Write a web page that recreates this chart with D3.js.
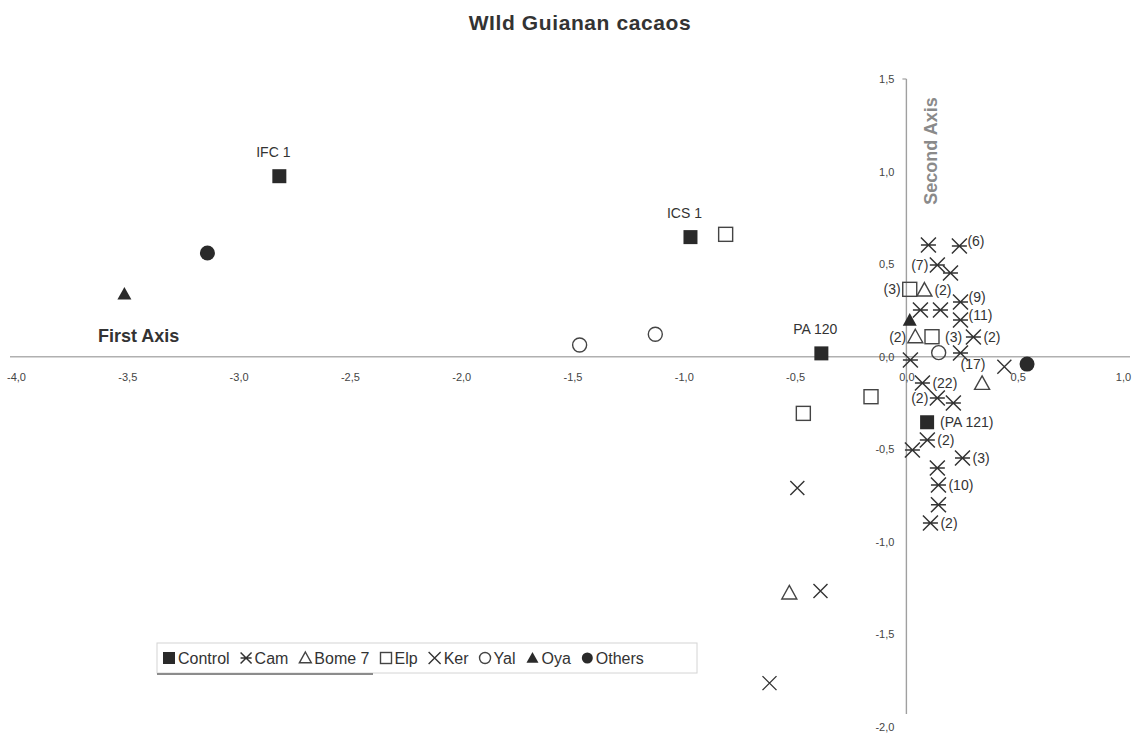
<!DOCTYPE html>
<html><head><meta charset="utf-8">
<script src="https://cdn.jsdelivr.net/npm/d3@7"></script>
<style>
body{margin:0;background:#fff}
svg{display:block}
text{font-family:"Liberation Sans",Arial,Helvetica,sans-serif}
</style>
</head><body>
<svg id="chart" width="1135" height="738"></svg>
<script>
// ---------- DATA ----------
const chartTitle = "WIld Guianan cacaos";
const xAxisTitle = "First Axis";
const yAxisTitle = "Second Axis";
const xTicks = [-4, -3.5, -3, -2.5, -2, -1.5, -1, -0.5, 0, 0.5, 1];
const yTicks = [-2, -1.5, -1, -0.5, 0, 0.5, 1, 1.5];
const legendNames = ["Control", "Cam", "Bome 7", "Elp", "Ker", "Yal", "Oya", "Others"];

// Control (filled squares)
const controlX = [-2.817, -0.970, -0.382, 0.093];
const controlY = [0.975, 0.646, 0.018, -0.354];
const controlLabel = ["IFC 1", "ICS 1", "PA 120", "(PA 121)"];
const controlSide = ["t", "t", "t", "r"];

// Cam (asterisks)
const camX = [0.099, 0.238, 0.139, 0.198, 0.243, 0.063, 0.153, 0.243, 0.301, 0.018, 0.243, 0.072, 0.139, 0.211, 0.094, 0.027, 0.252, 0.139, 0.144, 0.144, 0.108];
const camY = [0.603, 0.598, 0.495, 0.452, 0.296, 0.252, 0.252, 0.198, 0.106, -0.018, 0.020, -0.142, -0.223, -0.250, -0.450, -0.504, -0.547, -0.601, -0.693, -0.800, -0.898];
const camLabel = ["", "(6)", "(7)", "", "(9)", "", "", "(11)", "(2)", "", "(17)", "(22)", "(2)", "", "(2)", "", "(3)", "", "(10)", "", "(2)"];
const camSide = ["", "rt", "l", "", "rt", "", "", "rt", "r", "", "rb", "r", "l", "", "r", "", "r", "", "r", "", "r"];

// Bome 7 (open triangles)
const bomeX = [0.081, 0.040, 0.340, -0.526];
const bomeY = [0.360, 0.108, -0.144, -1.276];
const bomeLabel = ["(2)", "(2)", "", ""];
const bomeSide = ["r", "l", "", ""];

// Elp (open squares)
const elpX = [-0.812, -0.463, -0.159, 0.015, 0.115];
const elpY = [0.661, -0.306, -0.216, 0.364, 0.108];
const elpLabel = ["", "", "", "(3)", "(3)"];
const elpSide = ["", "", "", "l", "r"];

// Ker (crosses)
const kerX = [-0.490, -0.386, -0.615, 0.440];
const kerY = [-0.709, -1.266, -1.763, -0.054];

// Yal (open circles)
const yalX = [-1.468, -1.128, 0.145];
const yalY = [0.063, 0.121, 0.022];

// Oya (filled triangles)
const oyaX = [-3.513, 0.015];
const oyaY = [0.339, 0.198];

// Others (filled circles)
const othersX = [-3.140, 0.542];
const othersY = [0.560, -0.040];

// ---------- DRAW ----------
const svg = d3.select("#chart");
const x = d3.scaleLinear().domain([-4, 1]).range([16, 1129]);
const y = d3.scaleLinear().domain([-2, 1.5]).range([727, 79]);
const fmt = v => d3.format(".1f")(v).replace(".", ",").replace("−", "-");
const ink = "#2a2a2a";

svg.append("text").attr("x", 580).attr("y", 30).attr("text-anchor", "middle")
  .attr("font-size", 21).attr("font-weight", "bold").attr("fill", "#333")
  .attr("letter-spacing", 0.6).text(chartTitle);

// axis lines
svg.append("line").attr("x1", 10).attr("x2", 1130).attr("y1", y(0)).attr("y2", y(0))
  .attr("stroke", "#b0b0b0").attr("stroke-width", 1.6);
svg.append("line").attr("x1", x(0)).attr("x2", x(0)).attr("y1", y(1.5)).attr("y2", y(-1.93))
  .attr("stroke", "#a0a0a0").attr("stroke-width", 1.4);
svg.append("line").attr("x1", x(0) - 4).attr("x2", x(0)).attr("y1", y(1.5)).attr("y2", y(1.5))
  .attr("stroke", "#a0a0a0").attr("stroke-width", 1.2);

const xAxis = svg.append("g").attr("transform", `translate(0,${y(0)})`)
  .call(d3.axisBottom(x).tickValues(xTicks).tickFormat(fmt).tickSize(0).tickPadding(16));
const yAxis = svg.append("g").attr("transform", `translate(${x(0)},0)`)
  .call(d3.axisLeft(y).tickValues(yTicks).tickFormat(fmt).tickSize(0).tickPadding(12));
[xAxis, yAxis].forEach(g => {
  g.select(".domain").remove();
  g.selectAll("text").attr("font-size", 11).attr("fill", "#444")
    .attr("font-family", '"Liberation Sans",Arial,sans-serif');
});
// keep the last x label inside the frame
xAxis.selectAll(".tick").filter(d => d === 1).select("text").attr("dx", -6);

svg.append("text").attr("x", 98).attr("y", 342).attr("font-size", 18).attr("font-weight", "bold")
  .attr("fill", "#333").text(xAxisTitle);
svg.append("text").attr("transform", `translate(937,151) rotate(-90)`).attr("text-anchor", "middle")
  .attr("font-size", 18).attr("font-weight", "bold").attr("fill", "#8a8a8a").text(yAxisTitle);

// marker drawing helpers
function marker(g, type, s) {
  const r = s / 2;
  switch (type) {
    case "Control":
      g.append("rect").attr("x", -r).attr("y", -r).attr("width", s).attr("height", s).attr("fill", ink); break;
    case "Elp":
      g.append("rect").attr("x", -r).attr("y", -r).attr("width", s).attr("height", s)
        .attr("fill", "none").attr("stroke", "#444").attr("stroke-width", 1.4); break;
    case "Bome 7":
      g.append("path").attr("d", `M0,${-r}L${r},${r*0.8}L${-r},${r*0.8}Z`)
        .attr("fill", "none").attr("stroke", "#444").attr("stroke-width", 1.4); break;
    case "Oya":
      g.append("path").attr("d", `M0,${-r}L${r},${r*0.8}L${-r},${r*0.8}Z`).attr("fill", ink); break;
    case "Yal":
      g.append("circle").attr("r", r).attr("fill", "none").attr("stroke", "#444").attr("stroke-width", 1.4); break;
    case "Others":
      g.append("circle").attr("r", r).attr("fill", ink); break;
    case "Ker":
      g.append("path").attr("d", `M${-r},${-r}L${r},${r}M${-r},${r}L${r},${-r}`)
        .attr("stroke", "#333").attr("stroke-width", 1.4).attr("fill", "none"); break;
    case "Cam":
      g.append("path").attr("d", `M${-r},${-r}L${r},${r}M${-r},${r}L${r},${-r}M${-r},0L${r},0`)
        .attr("stroke", "#333").attr("stroke-width", 1.5).attr("fill", "none"); break;
  }
}

const sizes = {Control: 14, Elp: 14, "Bome 7": 15, Oya: 14, Yal: 14, Others: 15, Ker: 14, Cam: 15};

function plot(type, xs, ys, labels, sides) {
  xs.forEach((xv, i) => {
    const px = x(xv), py = y(ys[i]);
    const g = svg.append("g").attr("transform", `translate(${px},${py})`);
    marker(g, type, sizes[type]);
    const lab = labels ? labels[i] : "";
    if (lab) {
      const side = sides[i];
      const t = svg.append("text").attr("font-size", 14).attr("fill", "#333")
        .attr("dominant-baseline", "central").text(lab);
      const sq = type === "Control" || type === "Elp" ? 3 : 0;
      if (side === "r") t.attr("x", px + 10 + sq).attr("y", py);
      else if (side === "rt") t.attr("x", px + 8).attr("y", py - 5);
      else if (side === "rb") t.attr("x", px).attr("y", py + 11);
      else if (side === "l") t.attr("x", px - 9).attr("y", py).attr("text-anchor", "end");
      else if (side === "t") t.attr("x", px - 6).attr("y", py - 24).attr("text-anchor", "middle");
    }
  });
}

plot("Yal", yalX, yalY);
plot("Elp", elpX, elpY, elpLabel, elpSide);
plot("Bome 7", bomeX, bomeY, bomeLabel, bomeSide);
plot("Ker", kerX, kerY);
plot("Cam", camX, camY, camLabel, camSide);
plot("Control", controlX, controlY, controlLabel, controlSide);
plot("Oya", oyaX, oyaY);
plot("Others", othersX, othersY);

// legend
const lg = svg.append("g");
lg.append("rect").attr("x", 157).attr("y", 643).attr("width", 540).attr("height", 30)
  .attr("fill", "#fff").attr("stroke", "#d4d4d4").attr("stroke-width", 1);
lg.append("line").attr("x1", 157).attr("x2", 373).attr("y1", 674).attr("y2", 674)
  .attr("stroke", "#8c8c8c").attr("stroke-width", 2);
let cx = 163;
const legSize = {Control: 12, Cam: 11, "Bome 7": 12, Elp: 11, Ker: 12, Yal: 11, Oya: 12, Others: 11};
legendNames.forEach(name => {
  const s = legSize[name];
  const g = lg.append("g").attr("transform", `translate(${cx + s / 2},${658})`);
  marker(g, name, s);
  const t = lg.append("text").attr("x", cx + s + 3).attr("y", 658).attr("dominant-baseline", "central")
    .attr("font-size", 16).attr("fill", "#333").text(name);
  cx += s + 3 + t.node().getComputedTextLength() + 11;
});
</script>
</body></html>
